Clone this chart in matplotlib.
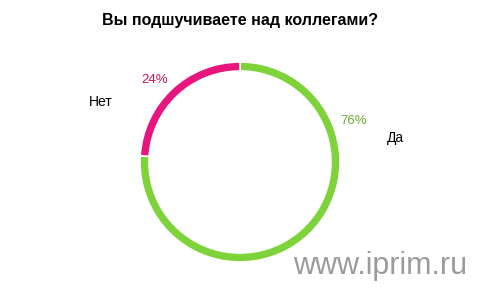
import matplotlib.pyplot as plt

title = 'Вы подшучиваете над коллегами?'
labels = ['Да', 'Нет']
values = [76, 24]
colors = ['#7ED23A', '#E8157E']
pct_colors = ['#6AA831', '#C0185E']

plt.rcParams['font.family'] = ['Liberation Sans', 'DejaVu Sans']

W, H = 480, 293
fig = plt.figure(figsize=(4.8, 2.93), dpi=100)
ax = fig.add_axes([0, 0, 1, 1])


def py(y):
    # pixel row from top -> data y (upwards)
    return H - y


cx, cy, r = 240, 162, 100
ax.pie(values, colors=colors, startangle=90, counterclock=False,
       center=(cx, py(cy)), radius=r, frame=True,
       wedgeprops=dict(width=9, edgecolor='white', linewidth=1.2))
ax.set_xlim(0, W)
ax.set_ylim(0, H)
ax.set_aspect('equal')
ax.axis('off')

# label positions in pixel coordinates (x, y from top)
pct_pos = [(354, 121), (155, 80)]
name_pos = [(395, 138), (101, 102)]
for lab, v, pc, pp, npos in zip(labels, values, pct_colors, pct_pos, name_pos):
    ax.text(pp[0], py(pp[1]), f'{v}%', color=pc, fontsize=9.5, ha='center', va='center')
    ax.text(npos[0], py(npos[1]), lab, color='black', fontsize=10, ha='center', va='center')

ax.text(240, py(20), title, fontsize=11.5, fontweight='bold', ha='center', va='center')
ax.text(380, py(266), 'www.iprim.ru', fontsize=22, color='#9B9B9B', ha='center', va='center')

fig.savefig('out.png', dpi=100)
